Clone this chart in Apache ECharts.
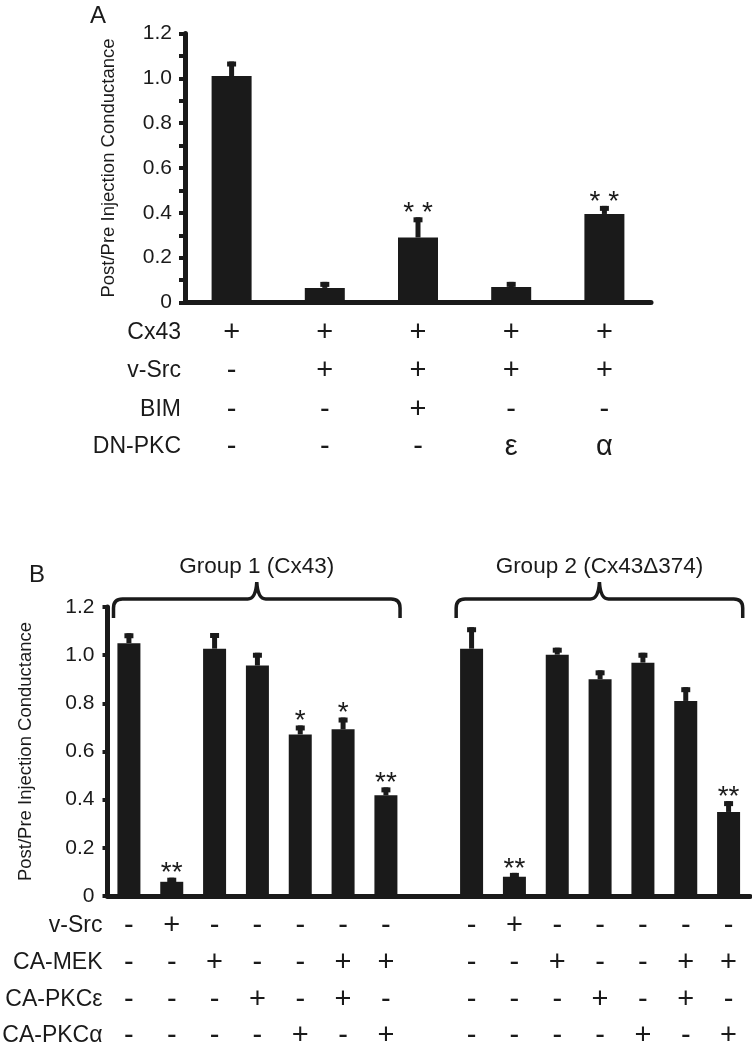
<!DOCTYPE html>
<html><head><meta charset="utf-8">
<style>html,body{margin:0;padding:0;background:#fff}#c{width:752px;height:1050px}</style>
<script src="https://cdn.jsdelivr.net/npm/echarts@6.0.0/dist/echarts.min.js"></script>
</head><body><div id="c"></div>
<script>
// ---------- Panel A data ----------
const catsA = ['A1', 'A2', 'A3', 'A4', 'A5'];
const valuesA = [1.01, 0.065, 0.29, 0.069, 0.395];
const errorsA = [0.065, 0.027, 0.09, 0.023, 0.036];
const starsA = ['', '', '* *', '', '* *'];
const rowNamesA = ['Cx43', 'v-Src', 'BIM', 'DN-PKC'];
const rowsA = [
  ['+', '+', '+', '+', '+'],
  ['-', '+', '+', '+', '+'],
  ['-', '-', '+', '-', '-'],
  ['-', '-', '-', 'ε', 'α']
];
// ---------- Panel B data ----------
const catsB = ['G1-1', 'G1-2', 'G1-3', 'G1-4', 'G1-5', 'G1-6', 'G1-7', 'gap',
               'G2-1', 'G2-2', 'G2-3', 'G2-4', 'G2-5', 'G2-6', 'G2-7'];
const valuesB = [1.05, 0.059, 1.027, 0.957, 0.671, 0.692, 0.418, null,
                 1.027, 0.08, 1.002, 0.90, 0.969, 0.81, 0.349];
const errorsB = [0.041, 0.017, 0.065, 0.053, 0.037, 0.049, 0.033, null,
                 0.089, 0.016, 0.029, 0.037, 0.041, 0.057, 0.045];
const starsB = ['', '**', '', '', '*', '*', '**', '',
                '', '**', '', '', '', '', '**'];
const rowNamesB = ['v-Src', 'CA-MEK', 'CA-PKCε', 'CA-PKCα'];
const rowsB = [
  ['-', '+', '-', '-', '-', '-', '-', '', '-', '+', '-', '-', '-', '-', '-'],
  ['-', '-', '+', '-', '-', '+', '+', '', '-', '-', '+', '-', '-', '+', '+'],
  ['-', '-', '-', '+', '-', '+', '-', '', '-', '-', '-', '+', '-', '+', '-'],
  ['-', '-', '-', '-', '+', '-', '+', '', '-', '-', '-', '-', '+', '-', '+']
];
const groupNamesB = ['Group 1 (Cx43)', 'Group 2 (Cx43Δ374)'];
const groupFirstB = [0, 8];
const groupLastB = [6, 14];
const yAxisTitle = 'Post/Pre Injection Conductance';

// ---------- styling ----------
const FONT = 'Liberation Sans, Arial, sans-serif';
const INK = '#1a1a1a';

function rowAxes(gridIndex, cats, rows, names, offsets, nameGap) {
  return rows.map((row, r) => ({
    type: 'category', gridIndex: gridIndex, data: cats, position: 'bottom', offset: offsets[r],
    axisLine: { show: false }, axisTick: { show: false }, splitLine: { show: false },
    axisLabel: {
      show: true, interval: 0, margin: 0, verticalAlign: 'middle',
      fontSize: 29, color: INK, fontFamily: FONT,
      formatter: (v, i) => row[i]
    },
    name: names[r], nameLocation: 'start', nameGap: nameGap,
    nameTextStyle: { fontSize: 23, color: INK, fontFamily: FONT, align: 'right', verticalAlign: 'middle' }
  }));
}

function yAxisFor(gridIndex, nameGap, minor, tickLen) {
  return {
    type: 'value', gridIndex: gridIndex, min: 0, max: 1.2, interval: 0.2,
    axisLine: { show: true, lineStyle: { color: INK, width: 5 } },
    axisTick: { show: true, length: tickLen, lineStyle: { color: INK, width: 4 } },
    minorTick: { show: minor, splitNumber: 2, length: tickLen, lineStyle: { color: INK, width: 4 } },
    splitLine: { show: false },
    axisLabel: { fontSize: 21, color: INK, fontFamily: FONT, margin: 13,
      formatter: v => (v === 0 ? '0' : v.toFixed(1)) },
    name: yAxisTitle, nameLocation: 'middle', nameRotate: 90, nameGap: nameGap,
    nameTextStyle: { fontSize: 18.5, color: INK, fontFamily: FONT }
  };
}

function mainX(gridIndex, cats) {
  return {
    type: 'category', gridIndex: gridIndex, data: cats, position: 'bottom',
    axisLine: { show: true, lineStyle: { color: INK, width: 5 } },
    axisTick: { show: false }, axisLabel: { show: false }, splitLine: { show: false }
  };
}

function errRender(stars) {
  return function (params, api) {
    const i = api.value(0), v = api.value(1), e = api.value(2);
    const b = api.coord([i, v]);
    const t = api.coord([i, v + e]);
    const children = [
      { type: 'rect', shape: { x: b[0] - 2.5, y: t[1], width: 5, height: Math.max(0, b[1] - t[1]) }, style: { fill: INK } },
      { type: 'rect', shape: { x: t[0] - 4.5, y: t[1], width: 9, height: 5 }, style: { fill: INK } }
    ];
    const s = stars[i];
    if (s) {
      children.push({ type: 'text', style: { text: s, x: t[0], y: t[1] - 4, align: 'center', verticalAlign: 'middle',
        fontSize: 28, fontFamily: FONT, fill: INK } });
    }
    return { type: 'group', children: children };
  };
}

function braceRender(params, api) {
  const f = api.value(0), l = api.value(1);
  const band = api.size([1, 0])[0];
  const pf = api.coord([f, 1.2]), pl = api.coord([l, 1.2]);
  const top = pf[1];
  const x0 = pf[0] - 0.36 * band, x1 = pl[0] + 0.33 * band;
  const mid = (x0 + x1) / 2;
  const yL = top - 8, yE = top + 11, yC = top - 25, r = 9;
  const d = 'M' + x0 + ' ' + yE + ' L' + x0 + ' ' + (yL + r) +
    ' Q' + x0 + ' ' + yL + ' ' + (x0 + r) + ' ' + yL +
    ' L' + (mid - 9) + ' ' + yL +
    ' Q' + (mid - 1) + ' ' + yL + ' ' + mid + ' ' + yC +
    ' Q' + (mid + 1) + ' ' + yL + ' ' + (mid + 9) + ' ' + yL +
    ' L' + (x1 - r) + ' ' + yL +
    ' Q' + x1 + ' ' + yL + ' ' + x1 + ' ' + (yL + r) +
    ' L' + x1 + ' ' + yE;
  return {
    type: 'group', children: [
      { type: 'path', shape: { pathData: d }, style: { stroke: INK, lineWidth: 3.5, fill: null } },
      { type: 'text', style: { text: groupNamesB[params.dataIndex], x: mid, y: top - 40, align: 'center',
        verticalAlign: 'middle', fontSize: 22.5, fontFamily: FONT, fill: INK } }
    ]
  };
}

const chart = echarts.init(document.getElementById('c'), null, { renderer: 'canvas' });

const xAxes = [mainX(0, catsA)]
  .concat(rowAxes(0, catsA, rowsA, rowNamesA, [30, 68, 107, 144], 4))
  .concat([mainX(1, catsB)])
  .concat(rowAxes(1, catsB, rowsB, rowNamesB, [29.5, 66.5, 103.5, 139.5], 5));

const option = {
  animation: false,
  backgroundColor: '#fff',
  title: [
    { text: 'A', left: 85, top: -1, textStyle: { fontSize: 24, fontWeight: 'normal', color: INK, fontFamily: FONT } },
    { text: 'B', left: 24, top: 558, textStyle: { fontSize: 24, fontWeight: 'normal', color: INK, fontFamily: FONT } }
  ],
  grid: [
    { left: 185, right: 101, top: 33.5, bottom: 747.5, containLabel: false },
    { left: 107.5, right: 2, top: 607, bottom: 149, containLabel: false }
  ],
  xAxis: xAxes,
  yAxis: [yAxisFor(0, 67, true, 6), yAxisFor(1, 72, false, 5)],
  series: [
    { type: 'bar', xAxisIndex: 0, yAxisIndex: 0, data: valuesA, barWidth: 40, itemStyle: { color: INK }, silent: true },
    { type: 'custom', xAxisIndex: 0, yAxisIndex: 0, z: 3, silent: true,
      data: valuesA.map((v, i) => [i, v, errorsA[i]]), renderItem: errRender(starsA) },
    { type: 'bar', xAxisIndex: 5, yAxisIndex: 1, data: valuesB, barWidth: 23, itemStyle: { color: INK }, silent: true },
    { type: 'custom', xAxisIndex: 5, yAxisIndex: 1, z: 3, silent: true,
      data: valuesB.map((v, i) => [i, v, errorsB[i]]).filter(d => d[1] !== null), renderItem: errRender(starsB) },
    { type: 'custom', xAxisIndex: 5, yAxisIndex: 1, z: 3, silent: true, clip: false,
      encode: { x: 0 },
      data: groupFirstB.map((f, k) => [f, groupLastB[k]]), renderItem: braceRender }
  ]
};
chart.setOption(option);
</script></body></html>
